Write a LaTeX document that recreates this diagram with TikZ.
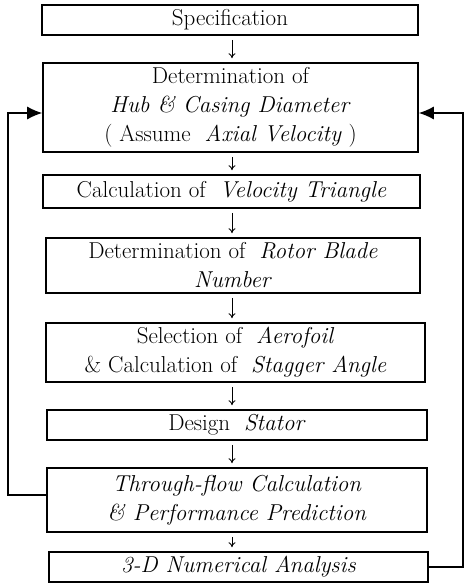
\documentclass[tikz,border=0pt]{standalone}
\usepackage{fontspec}
\usetikzlibrary{arrows.meta,calc}
\begin{document}
\begin{tikzpicture}[x=1pt,y=-1pt,
  box/.style={draw,line width=1.6pt,rectangle,inner sep=0pt,align=center,
    font=\fontsize{23}{29}\selectfont},
  flow/.style={line width=0.9pt,-{To[length=5pt,width=7pt]}},
  back/.style={line width=1.2pt,-{Latex[length=15pt,width=13pt]}}]
\useasboundingbox (0,0) rectangle (465,584);
\node[box,minimum width=376pt,minimum height=30pt] (spec) at (230,20) {Specification};
\node[box,minimum width=375pt,minimum height=89pt] (det) at (230.5,107.5)
  {Determination of\\ \textit{Hub \& Casing Diameter}\\ ( Assume \ \textit{Axial Velocity} )};
\node[box,minimum width=377pt,minimum height=33pt] (calc) at (231.5,191.5)
  {Calculation of \ \textit{Velocity Triangle}};
\node[box,minimum width=374pt,minimum height=55pt] (rotor) at (233,265.5)
  {Determination of \ \textit{Rotor Blade}\\ \textit{Number}};
\node[box,minimum width=379pt,minimum height=59pt] (aero) at (235.5,352.5)
  {Selection of \ \textit{Aerofoil}\\ \& Calculation of \ \textit{Stagger Angle}};
\node[box,minimum width=380pt,minimum height=30pt] (stator) at (237,425)
  {Design \ \textit{Stator}};
\node[box,minimum width=380pt,minimum height=64pt] (thru) at (237,500)
  {\textit{Through-flow Calculation}\\ \textit{\& Performance Prediction}};
\node[box,minimum width=379pt,minimum height=30pt] (threed) at (238.5,567)
  {\textit{3-D Numerical Analysis}};
\foreach \a/\b in {spec/det,det/calc,calc/rotor,rotor/aero,aero/stator,stator/thru,thru/threed}{
  \draw[flow] ([yshift=-4pt]\a.south -| 232,0) -- ([yshift=4pt]\b.north -| 232,0);
}
\coordinate (lt) at (8,113);
\coordinate (lb) at (8,495);
\coordinate (rt) at (463,113);
\coordinate (rb) at (463,567);
\draw[back] (thru.west |- lb) -- (lb) -- (lt) -- (det.west |- lt);
\draw[back] (threed.east |- rb) -- (rb) -- (rt) -- (det.east |- rt);
\end{tikzpicture}
\end{document}
